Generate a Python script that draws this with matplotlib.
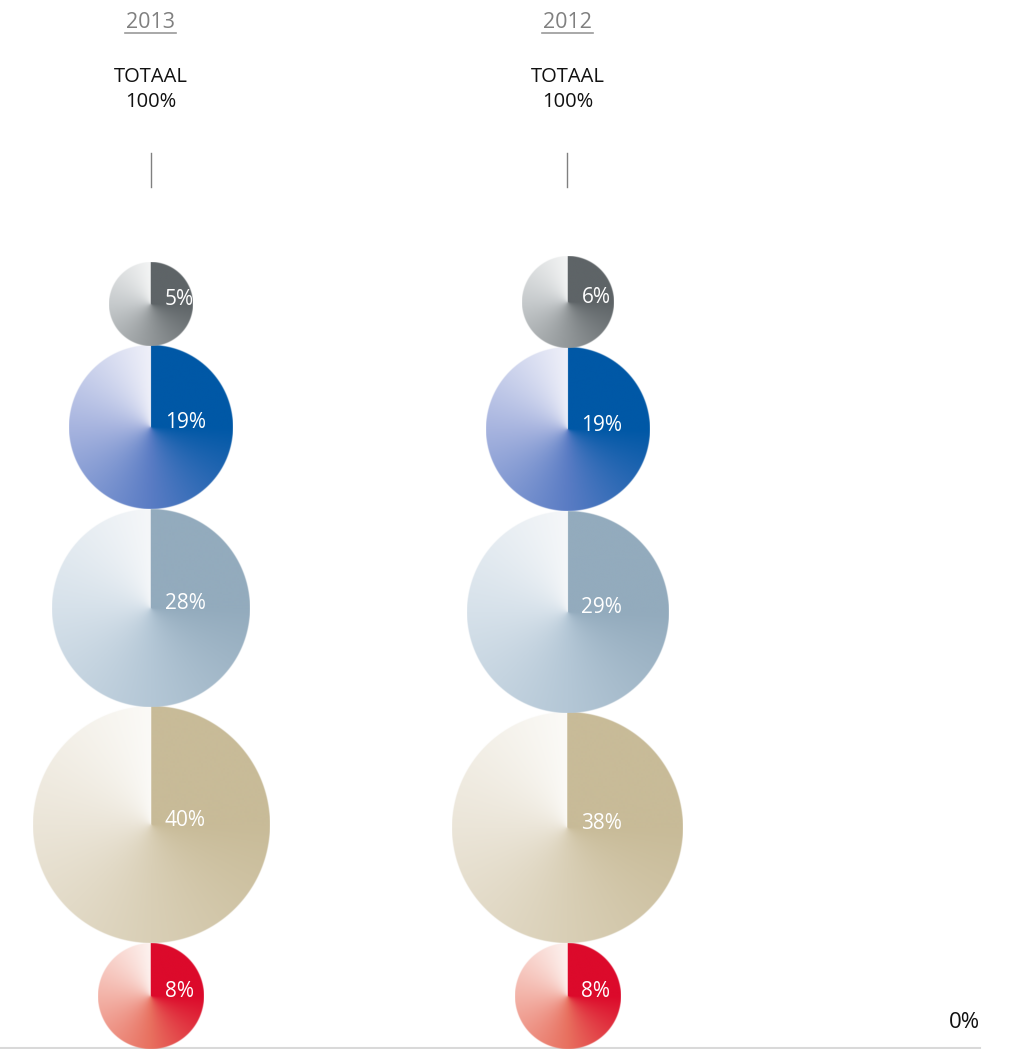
import numpy as np
import matplotlib
matplotlib.use('Agg')
import matplotlib.pyplot as plt
from matplotlib.colors import LinearSegmentedColormap

plt.rcParams['font.family'] = ['Open Sans', 'DejaVu Sans']

# shares per segment, top to bottom
years = ['2013', '2012']
shares_2013 = [5, 19, 28, 40, 8]
shares_2012 = [6, 19, 29, 38, 8]
total_lines = ['TOTAAL', '100%']

# colour ramps: full colour -> bottom -> left -> almost white
ramps = [
    ['#5e6467', '#929799', '#c6cacc', '#f3f4f4'],   # grijs
    ['#0058a6', '#5a7cc4', '#a7b4df', '#eff0f9'],   # blauw
    ['#93abbd', '#b4c7d6', '#d6e1ea', '#f5f7f9'],   # staalblauw
    ['#c8bb98', '#d9cfb6', '#ebe5d8', '#fbfaf7'],   # zand
    ['#dc0a2b', '#e8705f', '#f3b3a8', '#fdf2ef'],   # rood
]

W, H = 1018, 1049
col_x = [151, 567.5]
base_y = 1049      # bottom of the lowest circle
k = 18.7           # radius per sqrt(percent)


def gradient_disc(ax, cx, cy, r, colors):
    # conic fill: solid in the upper right quadrant, fading anticlockwise to white
    cmap = LinearSegmentedColormap.from_list('ramp', colors)
    n = int(4 * r)
    c = (np.arange(n) + 0.5) / n * 2 * r - r
    dx, dy = np.meshgrid(c, c)
    theta = np.mod(np.arctan2(dx, -dy), 2 * np.pi)
    t = np.clip((theta - np.pi / 2) / (1.5 * np.pi), 0, 1)
    rgba = cmap(t)
    d = np.hypot(dx, dy)
    rgba[..., 3] = np.clip(r - d + 0.5, 0, 1)
    ax.imshow(rgba, extent=(cx - r, cx + r, cy + r, cy - r), zorder=2)


fig = plt.figure(figsize=(W / 100, H / 100), dpi=100)
ax = fig.add_axes([0, 0, 1, 1])
ax.set_autoscale_on(False)
ax.axis('off')

# baseline
ax.plot([0, 980], [1047.5, 1047.5], color='#d9d9d9', lw=1.5, zorder=1)
ax.text(964, 1028.3, '0%', ha='center', va='baseline', fontsize=16, color='#111111')

for year, shares, cx in zip(years, [shares_2013, shares_2012], col_x):
    ax.text(cx, 22.5, year, ha='center', va='center', fontsize=15.5, color='#808080')
    ax.plot([cx - 25.5, cx + 25.5], [32.5, 32.5], color='#9a9a9a', lw=1.2)
    for line, yb in zip(total_lines, [81.7, 106.7]):
        ax.text(cx, yb, line, ha='center', va='baseline', fontsize=14.5, color='#111111')
    ax.plot([cx, cx], [153, 187], color='#808080', lw=1)

    # stack circles from the bottom up, touching each other
    y = base_y
    for p, colors in reversed(list(zip(shares, ramps))):
        r = k * np.sqrt(p)
        cy = y - r
        gradient_disc(ax, cx, cy, r, colors)
        ax.text(cx + 14, cy + 1, f'{p}%', ha='left', va='baseline',
                fontsize=15, color='white', zorder=3)
        y = cy - r

ax.set_xlim(0, W)
ax.set_ylim(H, 0)
fig.savefig('out.png', dpi=100)
